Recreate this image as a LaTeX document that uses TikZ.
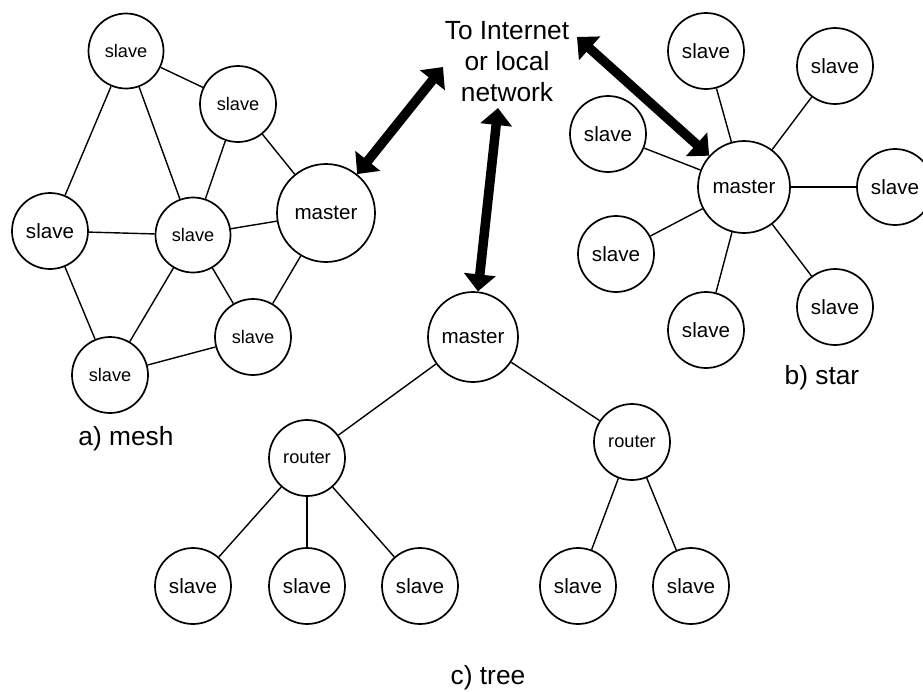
\documentclass[tikz,border=0pt]{standalone}
\usepackage{fontspec}
\setmainfont{Liberation Sans}
\usetikzlibrary{arrows.meta}
\begin{document}
\begin{tikzpicture}[x=1pt,y=-1pt,
  nd/.style={circle,draw,line width=1.7pt,inner sep=0pt,minimum size=76pt,
             font=\fontsize{20.6}{24}\selectfont},
  sm/.style={font=\fontsize{18.2}{22}\selectfont},
  edge/.style={line width=1.4pt},
  link/.style={line width=9.5pt,
    {Triangle[length=17pt,width=31pt]}-{Triangle[length=17pt,width=31pt]}},
  caption/.style={font=\fontsize{26.3}{31}\selectfont}]
\useasboundingbox (0,0) rectangle (923,691);

% mesh
\node[nd,sm,minimum size=75pt] (m1) at (126,51) {slave};
\node[nd,sm] (m2) at (238,104) {slave};
\node[nd] (m3) at (50,231) {slave};
\node[nd,sm,minimum size=75pt] (m4) at (193,235) {slave};
\node[nd,minimum size=98pt] (mm) at (326,213) {master};
\node[nd,sm] (m6) at (253,337) {slave};
\node[nd,sm] (m7) at (110,375) {slave};
\foreach \a/\b in {m1/m2,m1/m3,m1/m4,m2/m4,m2/mm,m3/m4,m4/mm,m3/m7,m4/m7,m4/m6,mm/m6,m7/m6}
  \draw[edge] (\a) -- (\b);
\node[caption] (la) at (126,439) {a) mesh};

% star
\node[nd,minimum size=92pt] (sm) at (744,187) {master};
\node[nd] (s1) at (706,51) {slave};
\node[nd] (s2) at (835,66) {slave};
\node[nd] (s3) at (608,134) {slave};
\node[nd] (s4) at (895,187) {slave};
\node[nd] (s5) at (616,254) {slave};
\node[nd] (s6) at (706,330) {slave};
\node[nd] (s7) at (835,307) {slave};
\foreach \s in {s1,s2,s3,s4,s5,s6,s7}
  \draw[edge] (sm) -- (\s);
\node[caption] (lb) at (822,378) {b) star};

% tree
\node[nd,minimum size=90pt] (tm) at (473,337) {master};
\node[nd,sm] (r1) at (307,458) {router};
\node[nd,sm] (r2) at (632,442) {router};
\node[nd] (t1) at (193,586) {slave};
\node[nd] (t2) at (307,586) {slave};
\node[nd] (t3) at (420,586) {slave};
\node[nd] (t4) at (578,586) {slave};
\node[nd] (t5) at (691,586) {slave};
\foreach \a/\b in {tm/r1,tm/r2,r1/t1,r1/t2,r1/t3,r2/t4,r2/t5}
  \draw[edge] (\a) -- (\b);
\node[caption] (lc) at (488,678) {c) tree};

% uplink
\node[caption,align=center] (net) at (507,62) {To Internet\\or local\\network};
\coordinate (n1) at (443,67);
\coordinate (n2) at (577,37);
\coordinate (n3) at (498,108);
\draw[link] (n1) -- (mm);
\draw[link] (n2) -- (sm);
\draw[link] (n3) -- (tm);
\end{tikzpicture}
\end{document}
